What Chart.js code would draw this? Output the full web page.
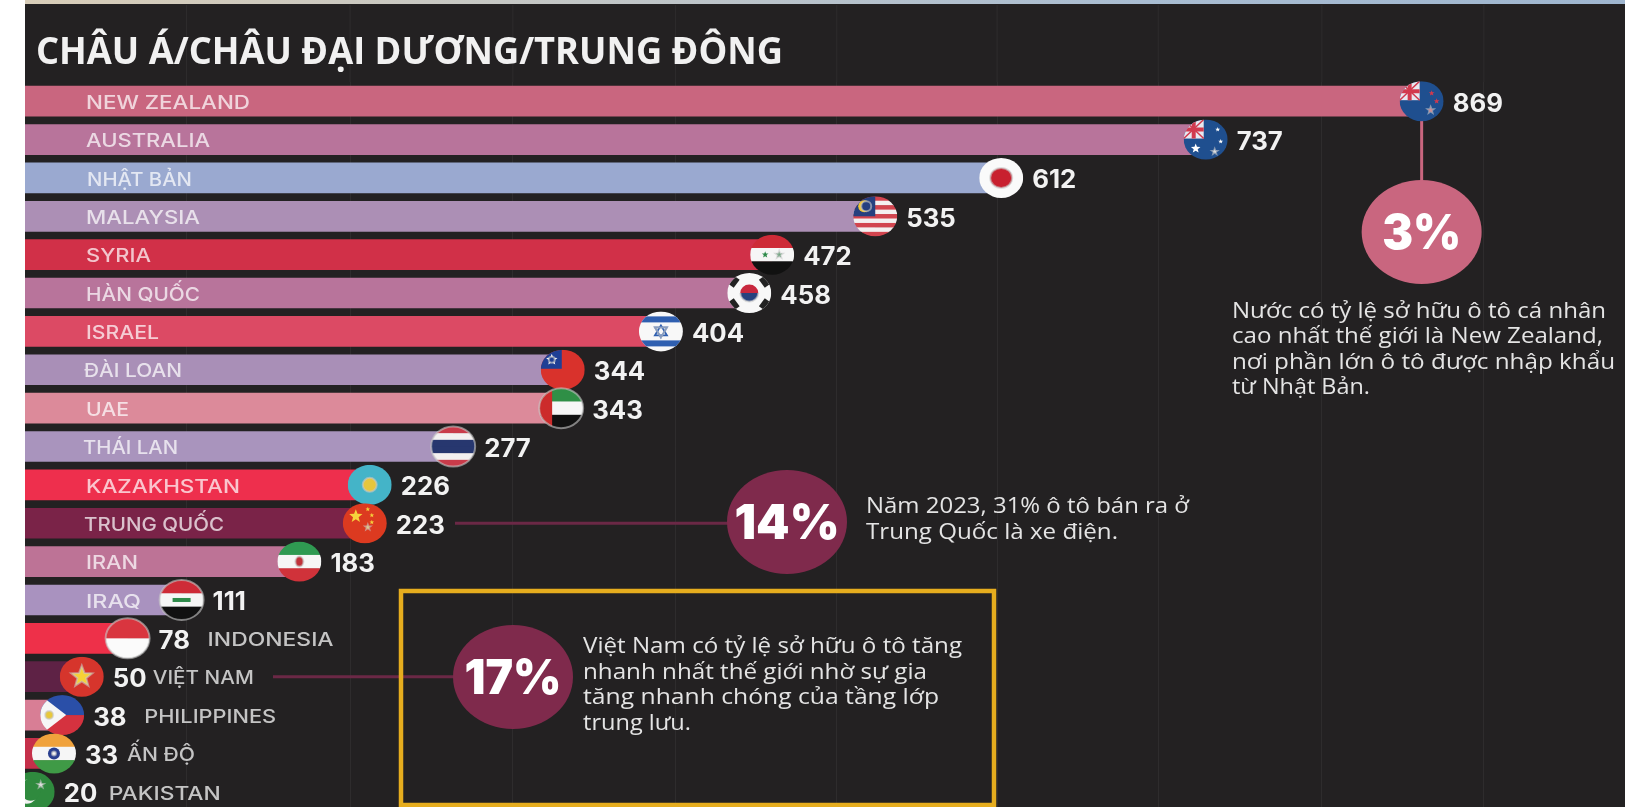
<!DOCTYPE html>
<html><head><meta charset="utf-8">
<style>html,body{margin:0;padding:0;background:#fff;overflow:hidden;width:1625px;height:807px}
canvas{display:block;filter:blur(0.7px)}</style>
<script src="https://cdn.jsdelivr.net/npm/chart.js@4/dist/chart.umd.min.js"></script>
</head><body><canvas id="c" width="1625" height="811"></canvas>
<script>
const categories=["NEW ZEALAND","AUSTRALIA","NHẬT BẢN","MALAYSIA","SYRIA","HÀN QUỐC","ISRAEL","ĐÀI LOAN","UAE","THÁI LAN","KAZAKHSTAN","TRUNG QUỐC","IRAN","IRAQ","INDONESIA","VIỆT NAM","PHILIPPINES","ẤN ĐỘ","PAKISTAN"];
const values=[869,737,612,535,472,458,404,344,343,277,226,223,183,111,78,50,38,33,20];
const barColors=["#c9667f","#b8749b","#9aa9d0","#ac8fb5","#d13048","#b8749b","#dc4a64","#a98fb7","#dc8a9a","#a994bd","#ee2f4d","#7a2348","#bd7396","#a992bf","#ee3049","#5e2245","#d87e95","#c5304a","#5e2245"];
const flagCodes=["nz","au","jp","my","sy","kr","il","tw","ae","th","kz","cn","ir","iq","id","vn","ph","in","pk"];
const gridValues=[114,214,313.5,413,511.5,609.5,708,808,907];
const titleText="CHÂU Á/CHÂU ĐẠI DƯƠNG/TRUNG ĐÔNG";
// layout of the labels that sit inside the bars: [left, width]
const insideLabelLayout=[[86,164],[86,124],[87,105],[86,114],[86,65],[86,114],[86,73],[84,98],[86,43],[83,95],[86,154],[84,140],[86,52],[86,55]];
// layout of the labels that sit after the value: {index:[offset from bar end, width]}
const outsideLabelLayout={14:[80,126],15:[71,101],16:[82,132],17:[73,68],18:[76,112]};
const DARK="#232122";
const BODY="'Open Sans'", LABEL="Inter";

function txt(ctx,s,x,y,font,color,opt={}){
  ctx.save();ctx.font=font;ctx.fillStyle=color;ctx.textBaseline="middle";ctx.textAlign="left";
  const sx=opt.w?opt.w/ctx.measureText(s).width:(opt.sx||1);
  ctx.translate(x,y);ctx.scale(sx,1);ctx.fillText(s,0,0);ctx.restore();
}
function ell(ctx,x,y,rx,ry,color){ctx.fillStyle=color;ctx.beginPath();ctx.ellipse(x,y,rx,ry,0,0,Math.PI*2);ctx.fill();}
function star(ctx,x,y,r,color){ctx.fillStyle=color;ctx.beginPath();
  for(let i=0;i<10;i++){const a=-Math.PI/2+i*Math.PI/5,q=i%2?r*0.42:r;ctx.lineTo(x+q*Math.cos(a),y+q*Math.sin(a));}
  ctx.closePath();ctx.fill();}
function bands(ctx,cols){const h=40/cols.length;cols.forEach((c,i)=>{ctx.fillStyle=c;ctx.fillRect(-22,-20+i*h,44,h+.5);});}
function union(ctx){ctx.fillStyle="#e8e8f0";ctx.fillRect(-22,-20,20,19);ctx.strokeStyle="#d23a4e";ctx.lineWidth=4;
  ctx.beginPath();ctx.moveTo(-12,-20);ctx.lineTo(-12,-1);ctx.moveTo(-22,-10);ctx.lineTo(-2,-10);ctx.stroke();
  ctx.lineWidth=1.5;ctx.beginPath();ctx.moveTo(-22,-20);ctx.lineTo(-2,-1);ctx.moveTo(-2,-20);ctx.lineTo(-22,-1);ctx.stroke();}
const flags={
 nz(c){bands(c,["#1f4f8f"]);union(c);star(c,10,-8,3,"#d23a4e");star(c,15,0,3,"#d23a4e");star(c,9,9,3,"#d23a4e");},
 au(c){bands(c,["#1f4f8f"]);union(c);star(c,-10,9,5,"#fff");star(c,12,-10,2.5,"#fff");star(c,15,2,2.5,"#fff");star(c,9,12,2.5,"#fff");},
 jp(c){bands(c,["#fafafa"]);ell(c,0,0,11,10,"#c8202f");},
 my(c){const r=[];for(let i=0;i<9;i++)r.push(i%2?"#f4f0f0":"#d2454f");bands(c,r);c.fillStyle="#25407f";c.fillRect(-22,-20,22,20);ell(c,-11,-10,6,6,"#f1c635");ell(c,-9,-10,5,5,"#25407f");},
 sy(c){bands(c,["#ce2b37","#f6f6f6","#111"]);star(c,-7,0,3.5,"#2e8b4a");star(c,7,0,3.5,"#2e8b4a");},
 kr(c){bands(c,["#f8f8f8"]);c.fillStyle="#c8283e";c.beginPath();c.ellipse(0,0,9,8.5,0,Math.PI,0);c.fill();c.fillStyle="#27427e";c.beginPath();c.ellipse(0,0,9,8.5,0,0,Math.PI);c.fill();
   c.fillStyle="#222";[[-15,-11],[15,-11],[-15,11],[15,11]].forEach(p=>{c.save();c.translate(p[0],p[1]);c.rotate(Math.atan2(p[1],p[0])+Math.PI/2);c.fillRect(-5,-3,10,6);c.restore();});},
 il(c){bands(c,["#f8f8f8"]);c.fillStyle="#2f5fb0";c.fillRect(-22,-15,44,6);c.fillRect(-22,9,44,6);c.strokeStyle="#2f5fb0";c.lineWidth=1.8;
   [[-1,1],[1,-1]].forEach(s=>{c.beginPath();c.moveTo(0,s[0]*6);c.lineTo(6,s[1]*4);c.lineTo(-6,s[1]*4);c.closePath();c.stroke();});},
 tw(c){bands(c,["#d9322c"]);c.fillStyle="#1f3f95";c.fillRect(-22,-20,21,19);star(c,-11,-10,6,"#fff");ell(c,-11,-10,3,3,"#1f3f95");},
 ae(c){bands(c,["#2f8f46","#f6f6f6","#111"]);c.fillStyle="#cc2b2b";c.fillRect(-22,-20,13,40);},
 th(c){bands(c,["#c93b4a","#f3f0f0","#27376f","#27376f","#f3f0f0","#c93b4a"]);},
 kz(c){bands(c,["#44b4c8"]);ell(c,0,0,7,7,"#e6c63d");},
 cn(c){bands(c,["#dc3a20"]);star(c,-9,-7,7,"#f6d33c");star(c,3,-14,2.5,"#f6d33c");star(c,7,-8,2.5,"#f6d33c");star(c,7,-1,2.5,"#f6d33c");star(c,3,4,2.5,"#f6d33c");},
 ir(c){bands(c,["#2f9a52","#f6f6f6","#d0323a"]);ell(c,0,0,4,5,"#c0323a");},
 iq(c){bands(c,["#ce2b37","#f6f6f6","#111"]);c.fillStyle="#2e8b4a";c.fillRect(-9,-2,18,4);},
 id(c){bands(c,["#d9353f","#fbfbfb"]);},
 vn(c){bands(c,["#d6352c"]);star(c,0,0,11,"#f7d235");},
 ph(c){bands(c,["#2a4fa8","#d5323f"]);c.fillStyle="#f6f6f6";c.beginPath();c.moveTo(-22,-20);c.lineTo(4,0);c.lineTo(-22,20);c.fill();ell(c,-13,0,4,4,"#e8c83a");},
 in(c){bands(c,["#f0a23c","#f6f6f6","#3f9a46"]);ell(c,0,0,6,6,"#2a3f8f");ell(c,0,0,2,2,"#f6f6f6");},
 pk(c){bands(c,["#2f8a3e"]);ell(c,-6,0,11,12,"#f3f3f3");ell(c,-2,-2,10,11,"#2f8a3e");star(c,8,-7,3,"#f3f3f3");}
};
function drawFlag(ctx,code,x,y){
  ctx.save();ctx.translate(x,y);
  ctx.beginPath();ctx.ellipse(0,0,22,20,0,0,Math.PI*2);ctx.save();ctx.clip();flags[code](ctx);ctx.restore();
  ctx.strokeStyle="rgba(200,200,200,.6)";ctx.lineWidth=2;ctx.stroke();ctx.restore();
}
function callout(ctx,cx,cy,color,label,w){
  ell(ctx,cx,cy,60,52,color);
  txt(ctx,label,cx-w/2,cy+3,"900 48px "+LABEL,"#fff",{w});
}
const notes=[
 {lines:["Nước có tỷ lệ sở hữu ô tô cá nhân","cao nhất thế giới là New Zealand,","nơi phần lớn ô tô được nhập khẩu","từ Nhật Bản."],x:1232,ys:[312,337,363,388],ws:[374,371,383,138]},
 {lines:["Năm 2023, 31% ô tô bán ra ở","Trung Quốc là xe điện."],x:866,ys:[507,533],ws:[323,252]},
 {lines:["Việt Nam có tỷ lệ sở hữu ô tô tăng","nhanh nhất thế giới nhờ sự gia","tăng nhanh chóng của tầng lớp","trung lưu."],x:583,ys:[647,673,698,724],ws:[379,344,356,108]}
];
const decor={id:"decor",
 beforeDraw(ch){const c=ch.ctx;c.save();c.fillStyle=DARK;c.fillRect(0,0,1625,811);
   const xs=ch.scales.x;c.strokeStyle="rgba(255,255,255,0.05)";c.lineWidth=1;
   gridValues.forEach(v=>{const p=xs.getPixelForValue(v);c.beginPath();c.moveTo(p,5);c.lineTo(p,ch.chartArea.top);c.stroke();});
   c.restore();},
 afterDatasetsDraw(ch){const c=ch.ctx,xs=ch.scales.x,ys=ch.scales.y;
   c.save();
   const py=i=>ys.getPixelForValue(i);
   c.lineWidth=3;c.strokeStyle="#c9667f";c.beginPath();c.moveTo(xs.getPixelForValue(values[0]),py(0));c.lineTo(xs.getPixelForValue(values[0]),190);c.stroke();
   c.strokeStyle="#6b2846";c.beginPath();c.moveTo(455,py(11));c.lineTo(735,py(11));c.moveTo(273,py(15));c.lineTo(460,py(15));c.stroke();
   c.strokeStyle="#e6ad1e";c.lineWidth=4.5;c.strokeRect(401,591,593,214);
   callout(c,xs.getPixelForValue(values[0]),232,"#c9667f","3%",79);
   callout(c,787,522,"#7f2a4c","14%",105);
   callout(c,513,677,"#7f2a4c","17%",97);
   values.forEach((v,i)=>{
     const x=xs.getPixelForValue(v),y=py(i);
     drawFlag(c,flagCodes[i],x,y);
     txt(c,String(v),x+31,y+3,"700 25px "+LABEL,"#f2f2f2",{sx:1.03});
     const out=outsideLabelLayout[i];
     if(out) txt(c,categories[i],x+out[0],y+2,"500 19px "+LABEL,"#c4c4c4",{w:out[1]});
     else txt(c,categories[i],insideLabelLayout[i][0],y+2,"500 19px "+LABEL,"rgba(255,255,255,.72)",{w:insideLabelLayout[i][1]});
   });
   txt(c,titleText,36,53,"700 37px "+BODY,"#f1f1f1",{w:747});
   notes.forEach(n=>n.lines.forEach((l,i)=>txt(c,l,n.x,n.ys[i],"500 22px "+BODY,"#e4e4e4",{w:n.ws[i]})));
   // page margin and photo strip cropped along the top
   c.fillStyle="#fff";c.fillRect(0,0,25,811);
   const g=c.createLinearGradient(25,0,1625,0);
   g.addColorStop(0,"#d8cdb8");g.addColorStop(.35,"#c2c6c6");g.addColorStop(.7,"#a9bdd2");g.addColorStop(1,"#9fb6cf");
   c.fillStyle=g;c.fillRect(25,0,1600,4);
   c.restore();}
};
new Chart(document.getElementById("c"),{
 type:"bar",
 data:{labels:categories,datasets:[{data:values,backgroundColor:barColors,borderWidth:0,barPercentage:.8,categoryPercentage:1}]},
 options:{indexAxis:"y",responsive:false,animation:false,
  layout:{padding:{top:82,left:0,right:0,bottom:0}},
  plugins:{legend:{display:false},tooltip:{enabled:false}},
  scales:{
   x:{min:0,max:993.3,display:true,border:{display:false},ticks:{display:false},
      grid:{color:"rgba(255,255,255,0.05)",drawTicks:false},
      afterBuildTicks(s){s.ticks=gridValues.map(value=>({value}));}},
   y:{display:false}
  }},
 plugins:[decor]
});
</script></body></html>
